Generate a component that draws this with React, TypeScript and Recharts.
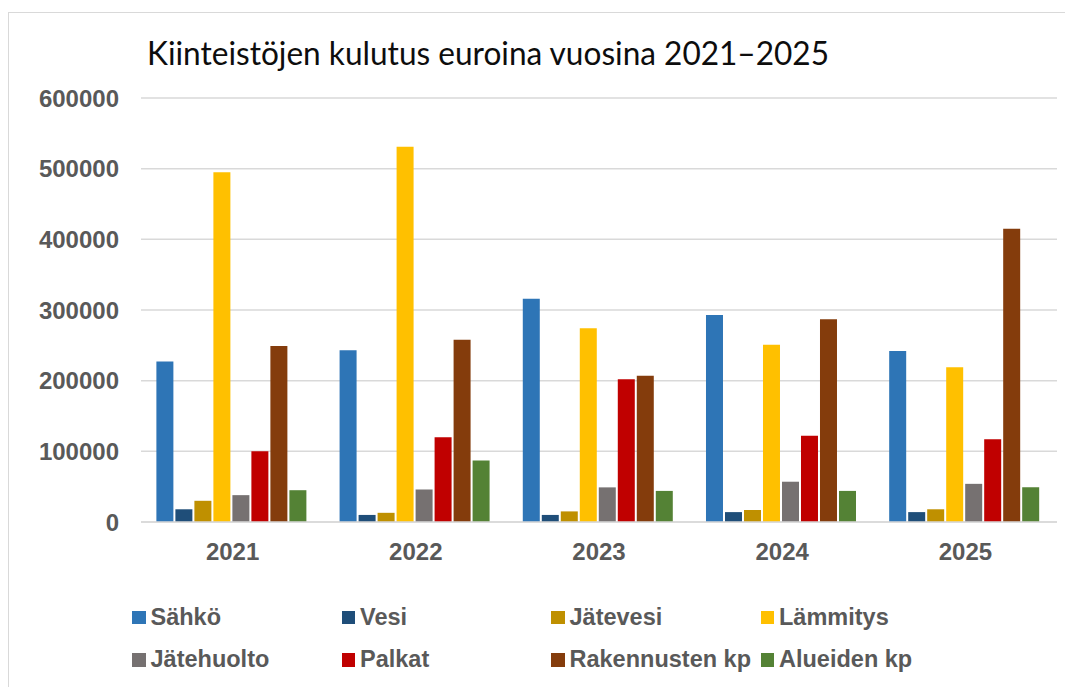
import React from 'react';
import { BarChart, Bar, XAxis, YAxis, CartesianGrid, Legend } from 'recharts';

const years = ['2021', '2022', '2023', '2024', '2025'];
const sahko = [227000, 243000, 316000, 293000, 242000];
const vesi = [18000, 10000, 10000, 14000, 14000];
const jatevesi = [30000, 13000, 15000, 17000, 18000];
const lammitys = [495000, 531000, 274000, 251000, 219000];
const jatehuolto = [38000, 46000, 49000, 57000, 54000];
const palkat = [100000, 120000, 202000, 122000, 117000];
const rakennusten = [249000, 258000, 207000, 287000, 415000];
const alueiden = [45000, 87000, 44000, 44000, 49000];
const yTicks = [0, 100000, 200000, 300000, 400000, 500000, 600000];

const seriesNames = ['Sähkö', 'Vesi', 'Jätevesi', 'Lämmitys', 'Jätehuolto', 'Palkat', 'Rakennusten kp', 'Alueiden kp'];
const seriesValues = [sahko, vesi, jatevesi, lammitys, jatehuolto, palkat, rakennusten, alueiden];
const colors = ['#2E75B6', '#1F4E79', '#BF9000', '#FFC000', '#767171', '#C00000', '#843C0C', '#548235'];

const data = years.map((year, i) => {
    const row: Record<string, string | number> = { year };
    seriesNames.forEach((name, s) => {
        row[name] = seriesValues[s][i];
    });
    return row;
});

const FONT = '"Liberation Sans", Arial, sans-serif';
const TEXT = '#595959';

// legend is a 4 x 2 grid like the Excel original, kept in series order
const renderLegend = (props: any) => {
    const items = [...(props.payload || [])].sort(
        (a: any, b: any) => seriesNames.indexOf(a.value) - seriesNames.indexOf(b.value)
    );
    return (
        <div
            style={{
                display: 'grid',
                gridTemplateColumns: 'repeat(4, 209.5px)',
                gridAutoRows: '42.5px',
                fontFamily: FONT,
                fontSize: 23.5,
                fontWeight: 700,
                color: TEXT,
            }}
        >
            {items.map((item: any) => (
                <div key={item.value} style={{ display: 'flex', alignItems: 'center', whiteSpace: 'nowrap' }}>
                    <span
                        style={{
                            display: 'inline-block',
                            width: 13.5,
                            height: 13.5,
                            background: item.color,
                            marginRight: 5,
                        }}
                    />
                    {item.value}
                </div>
            ))}
        </div>
    );
};

const App: React.FC = () => (
    <div style={{ position: 'absolute', left: 0, top: 0, width: 1065, height: 687, overflow: 'hidden', background: '#fff' }}>
        <div
            style={{
                position: 'absolute',
                left: 8,
                top: 12,
                width: 1080,
                height: 700,
                border: '1.5px solid #d9d9d9',
            }}
        />
        <div style={{ position: 'absolute', left: 0, top: 0 }}>
            <BarChart
                width={1065}
                height={687}
                data={data}
                margin={{ top: 98, right: 8, bottom: 0, left: 21 }}
                barCategoryGap="8.4%"
                barGap={2}
            >
                <CartesianGrid vertical={false} stroke="#d9d9d9" strokeWidth={1.5} />
                <XAxis
                    dataKey="year"
                    height={165}
                    tickLine={false}
                    axisLine={{ stroke: '#d9d9d9', strokeWidth: 1.5 }}
                    tickMargin={15}
                    tick={{ fontFamily: FONT, fontSize: 24, fontWeight: 700, fill: TEXT }}
                />
                <YAxis
                    width={120}
                    domain={[0, 600000]}
                    ticks={yTicks}
                    interval={0}
                    axisLine={false}
                    tickLine={false}
                    tickMargin={16}
                    tick={{ fontFamily: FONT, fontSize: 24, fontWeight: 700, fill: TEXT }}
                />
                <Legend
                    layout="horizontal"
                    verticalAlign="middle"
                    align="center"
                    content={renderLegend}
                    wrapperStyle={{ left: 132, top: 596, width: 900 }}
                />
                {seriesNames.map((name, s) => (
                    <Bar key={name} dataKey={name} fill={colors[s]} isAnimationActive={false} />
                ))}
            </BarChart>
        </div>
        <svg width={1065} height={90} style={{ position: 'absolute', left: 0, top: 0 }}>
            <text
                x={147}
                y={65}
                fontFamily="Lato, 'Open Sans', sans-serif"
                fontSize={32}
                fill="#0d0d0d"
                textLength={682}
                lengthAdjust="spacingAndGlyphs"
            >
                Kiinteistöjen kulutus euroina vuosina 2021–2025
            </text>
        </svg>
    </div>
);

export default App;
